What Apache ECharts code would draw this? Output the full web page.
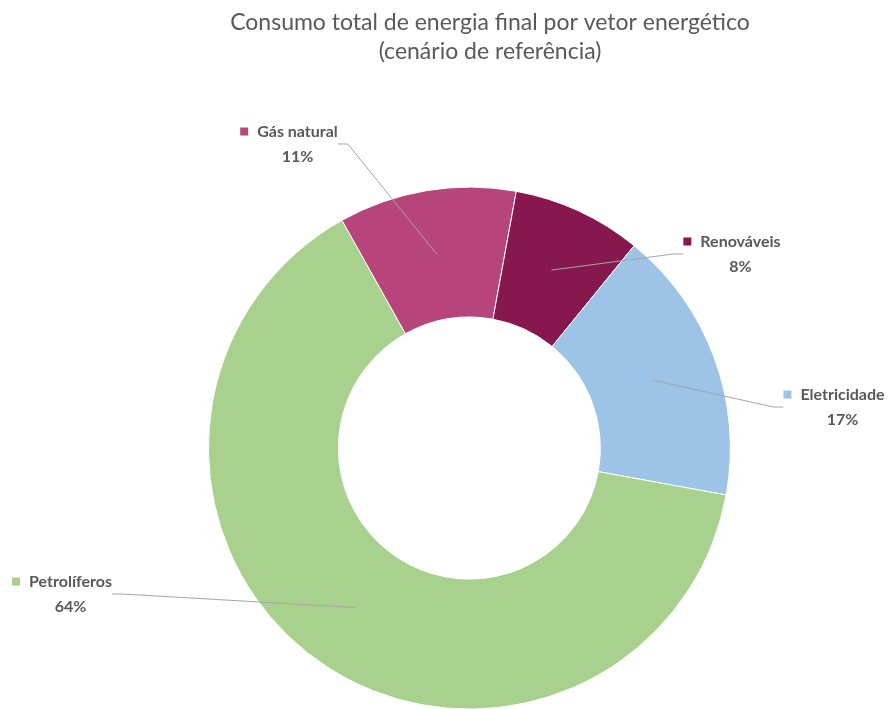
<!DOCTYPE html>
<html>
<head>
<meta charset="utf-8">
<script src="https://cdn.jsdelivr.net/npm/echarts@6/dist/echarts.min.js"></script>
<style>
  html, body { margin: 0; padding: 0; background: #ffffff; }
  #chart { width: 889px; height: 709px; }
</style>
</head>
<body>
<div id="chart"></div>
<script>
// Final energy consumption shares by energy carrier (reference scenario)
const categories = ['Gás natural', 'Renováveis', 'Eletricidade', 'Petrolíferos'];
const shares = [11, 8, 17, 64];
const colors = ['#B7457B', '#86184F', '#9DC3E6', '#A9D18E'];

// Label anchor points (box centres) for each category, in pixels
const labelSpots = [[289, 144], [732, 254], [834, 407], [62, 594]];

const seriesData = categories.map((name, i) => ({
  name: name,
  value: shares[i],
  itemStyle: { color: colors[i] }
}));

const textColor = '#595959';
const fontFamily = 'Lato, "Open Sans", sans-serif';

const center = ['52.8%', '63.2%'];
const startAngle = 119.25;

const chart = echarts.init(document.getElementById('chart'), null, { renderer: 'canvas' });

chart.setOption({
  backgroundColor: '#ffffff',
  animation: false,
  title: {
    text: 'Consumo total de energia final por vetor energético\n(cenário de referência)',
    left: 485,
    textAlign: 'center',
    top: 3,
    textStyle: {
      color: textColor,
      fontFamily: fontFamily,
      fontSize: 23,
      fontWeight: 'normal',
      lineHeight: 29
    }
  },
  series: [
    {
      // visible doughnut
      type: 'pie',
      z: 2,
      center: center,
      radius: [131, 261],
      startAngle: startAngle,
      clockwise: true,
      silent: true,
      label: { show: false },
      labelLine: { show: false },
      itemStyle: { borderColor: '#ffffff', borderWidth: 1 },
      data: seriesData
    },
    {
      // transparent ring carrying the labels, so leader lines end mid-ring
      type: 'pie',
      z: 5,
      center: center,
      radius: [0, 196],
      startAngle: startAngle,
      clockwise: true,
      silent: true,
      itemStyle: { color: 'rgba(0,0,0,0)' },
      data: categories.map((name, i) => ({
        name: name,
        value: shares[i],
        label: {
          rich: {
            sq: { width: 8, height: 8, backgroundColor: colors[i] }
          }
        }
      })),
      label: {
        show: true,
        position: 'outside',
        formatter: function (p) {
          return '{sq|}{name|' + p.name + '}\n{pct|' + p.value + '%}';
        },
        color: textColor,
        fontFamily: fontFamily,
        fontSize: 16,
        fontWeight: 'bold',
        align: 'center',
        rich: {
          name: { color: textColor, fontFamily: fontFamily, fontSize: 16, fontWeight: 'bold', padding: [0, 0, 0, 9], lineHeight: 25 },
          pct: { color: textColor, fontFamily: fontFamily, fontSize: 16, fontWeight: 'bold', padding: [0, 0, 0, 17], lineHeight: 25 }
        }
      },
      labelLine: {
        show: true,
        length: 10,
        length2: 10,
        smooth: false,
        lineStyle: { color: '#A6A6A6', width: 1 }
      },
      labelLayout: function (params) {
        const spot = labelSpots[params.dataIndex];
        return {
          x: spot[0],
          y: spot[1],
          align: 'center',
          verticalAlign: 'middle'
        };
      }
    }
  ]
});
</script>
</body>
</html>
